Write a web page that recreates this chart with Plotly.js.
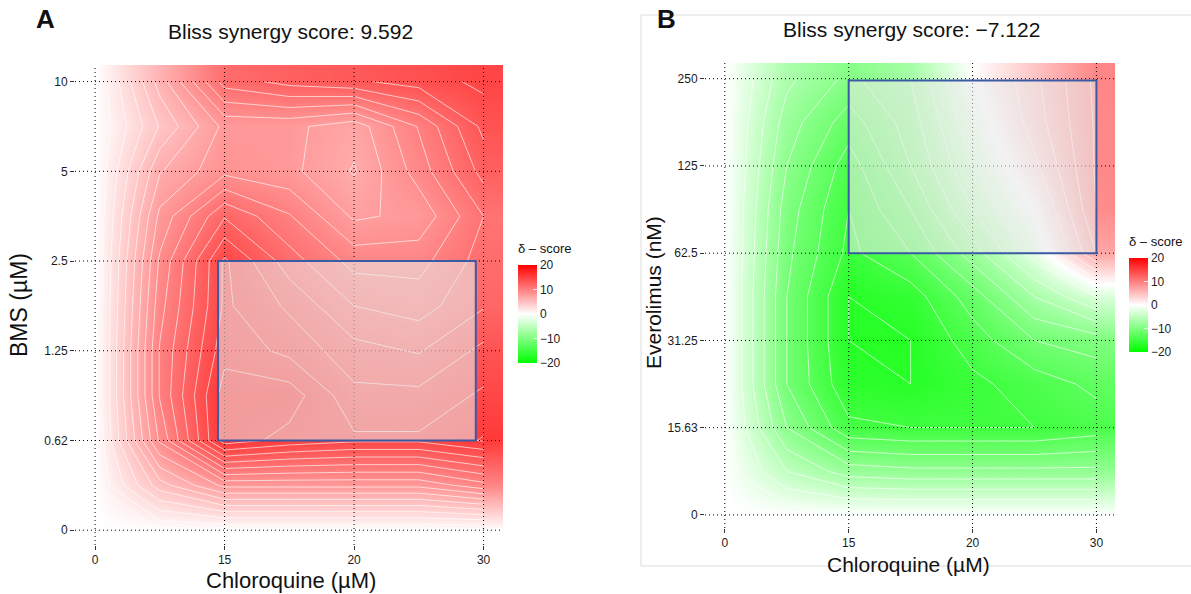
<!DOCTYPE html>
<html>
<head>
<meta charset="utf-8">
<script src="https://cdn.plot.ly/plotly-3.0.1.min.js"></script>
<style>html,body{margin:0;padding:0;background:#fff;}#chart{width:1191px;height:594px;}</style>
</head>
<body>
<div id="chart"></div>
<script>
// ---------- data ----------
const chloroquineLabels = ['0', '15', '20', '30'];
const bmsLabels = ['0', '0.62', '1.25', '2.5', '5', '10'];
const everolimusLabels = ['0', '15.63', '31.25', '62.5', '125', '250'];

// surface sample positions (dose index; read at half-steps of the dose grid)
const gridX = [0, 0.5, 1, 1.5, 2, 2.5, 3];
const gridY = [0, 0.5, 1, 1.5, 2, 2.5, 3, 3.5, 4, 4.5, 5];

// Panel A: Chloroquine x BMS, delta-score (rows follow gridY, columns gridX)
const deltaA = [
  [0, 0, 0, 0, 0, 0, 0],
  [0, 5, 8, 8, 8, 8, 9.5],
  [0, 9, 16, 15, 14.5, 14.5, 15.5],
  [0, 10, 16, 16, 13.5, 13.5, 14.5],
  [0, 10, 15, 14, 12.5, 12, 13.5],
  [0, 9.5, 14.5, 13, 11, 10.5, 12],
  [0, 9, 14.5, 11.5, 9.5, 9.5, 11.5],
  [0, 8, 12, 10, 7.5, 8, 11],
  [0, 6.5, 8.5, 8, 6.5, 9.3, 12.5],
  [0, 4.5, 8, 8, 7, 10, 13.5],
  [0, 6, 11.5, 12.5, 13, 13.7, 14.6]
];

// Panel B: Chloroquine x Everolimus, delta-score
const deltaB = [
  [0, 0, 0, 0, 0, 0, 0],
  [0, -5, -8, -8.5, -8.5, -8.5, -8.5],
  [0, -9, -14.5, -15, -15, -15, -14],
  [0, -11, -16.5, -17, -15.5, -14, -12.5],
  [0, -11, -17, -17, -14, -11, -10],
  [0, -11, -17, -16, -12, -7, -3],
  [0, -10.5, -15.5, -13, -8, -2, 7],
  [0, -10, -15, -11, -5, 0, 9],
  [0, -9, -14, -9, -3, 2.5, 9.3],
  [0, -8, -12, -8, -1.6, 4, 9.3],
  [0, -6.5, -9.5, -7, 0, 4.5, 9.5]
];

const scoreA = '9.592';
const scoreB = '\u22127.122';
const legendTitle = '\u03B4 \u2013 score';
// highlighted dose windows [xFrom, xTo, yFrom, yTo] in dose-index units
const boxA = [0.95, 2.94, 1, 3];
const boxB = [1, 3, 3, 4.98];

// ---------- style ----------
const FONT = 'Liberation Sans, Arial, Helvetica, sans-serif';
const cscale = [[0, '#00FF00'], [0.5, '#FFFFFF'], [1, '#FF0000']];
const W = 1191, H = 594;
const px = v => v / W;
const py = v => 1 - v / H;

function panel(idx, z, cbX, cbY, cbLen, cStep, cStart, cEnd) {
  const xs = idx === 1 ? 'x' : 'x2';
  const ys = idx === 1 ? 'y' : 'y2';
  return [
    {
      type: 'heatmap', x: gridX, y: gridY, z: z, xaxis: xs, yaxis: ys,
      zmin: -20, zmax: 20, colorscale: cscale, zsmooth: 'best', hoverinfo: 'skip',
      colorbar: {
        x: cbX, xanchor: 'left', y: cbY, yanchor: 'middle',
        len: cbLen, lenmode: 'pixels', thickness: 19, thicknessmode: 'pixels',
        outlinewidth: 0, ypad: 0, xpad: 0,
        tickvals: [20, 10, 0, -10, -20], ticks: 'inside', ticklen: 4, tickcolor: 'rgba(255,255,255,0.8)',
        tickfont: {family: FONT, size: 12, color: '#222'}
      }
    },
    {
      type: 'contour', x: gridX, y: gridY, z: z, xaxis: xs, yaxis: ys,
      showscale: false, hoverinfo: 'skip',
      contours: {coloring: 'none', start: cStart, end: cEnd, size: cStep},
      line: {color: 'rgba(255,255,255,0.65)', width: 1, smoothing: 0}
    }
  ];
}

const data = [].concat(
  panel(1, deltaA, px(518), py(314), 98, 1.1, -19.8, 19.8),
  panel(2, deltaB, px(1129), py(305), 94, 2, -19, 19)
);

function axis(dom, range, labels, size, anchor) {
  return {
    domain: dom, range: range, anchor: anchor,
    tickvals: labels.map((_, i) => i), ticktext: labels,
    ticks: 'outside', ticklen: 4, tickcolor: '#333', tickwidth: 1,
    showgrid: false, zeroline: false, showline: false, fixedrange: true,
    tickfont: {family: FONT, size: size, color: '#1a1a1a'}
  };
}

const layout = {
  width: W, height: H,
  margin: {l: 0, r: 0, t: 0, b: 0},
  paper_bgcolor: '#fff', plot_bgcolor: '#fff',
  showlegend: false,
  xaxis: axis([px(75), px(503)], [-0.155, 3.15], chloroquineLabels, 12, 'y'),
  yaxis: axis([1 - 545 / H, 1 - 65 / H], [-0.165, 5.185], bmsLabels, 12, 'x'),
  xaxis2: axis([px(705), px(1115)], [-0.16, 3.15], chloroquineLabels, 12, 'y2'),
  yaxis2: axis([1 - 528 / H, 1 - 63 / H], [-0.15, 5.18], everolimusLabels, 12, 'x2'),
  shapes: [],
  annotations: []
};

// dotted reference lines at every dose
function gridShapes(xr, yr, nx, ny) {
  const out = [];
  for (let i = 0; i < nx; i++) out.push({type: 'line', xref: xr, yref: yr + ' domain', x0: i, x1: i, y0: 0, y1: 1,
    line: {color: '#000', width: 1, dash: '1px,3px'}, layer: 'above'});
  for (let j = 0; j < ny; j++) out.push({type: 'line', xref: xr + ' domain', yref: yr, x0: 0, x1: 1, y0: j, y1: j,
    line: {color: '#000', width: 1, dash: '1px,3px'}, layer: 'above'});
  return out;
}
layout.shapes = layout.shapes.concat(
  gridShapes('x', 'y', chloroquineLabels.length, bmsLabels.length),
  gridShapes('x2', 'y2', chloroquineLabels.length, everolimusLabels.length)
);
function boxShape(xr, yr, b) {
  return {type: 'rect', xref: xr, yref: yr, x0: b[0], x1: b[1], y0: b[2], y1: b[3],
    line: {color: '#3B5BA5', width: 2}, fillcolor: 'rgba(232,232,232,0.58)', layer: 'above'};
}
layout.shapes.push(boxShape('x', 'y', boxA));
layout.shapes.push(boxShape('x2', 'y2', boxB));
// panel B frame
layout.shapes.push({type: 'rect', xref: 'paper', yref: 'paper', x0: px(641), x1: px(1230), y0: py(566), y1: py(15),
  line: {color: '#DDDDDD', width: 1}, fillcolor: 'rgba(0,0,0,0)', layer: 'below'});

function ann(text, x, y, size, opts) {
  return Object.assign({text: text, xref: 'paper', yref: 'paper', x: px(x), y: py(y), showarrow: false,
    xanchor: 'center', yanchor: 'middle', font: {family: FONT, size: size, color: '#111'}}, opts || {});
}
layout.annotations = [
  ann('<b>A</b>', 45, 19, 26),
  ann('<b>B</b>', 666, 19, 26),
  ann('Bliss synergy score: ' + scoreA, 290, 32, 21),
  ann('Bliss synergy score: ' + scoreB, 911, 30, 21),
  ann('Chloroquine (\u00B5M)', 291, 580, 22),
  ann('Chloroquine (\u00B5M)', 908, 564, 21),
  ann('BMS (\u00B5M)', 19, 305, 23, {textangle: -90}),
  ann('Everolimus (nM)', 653, 293, 21, {textangle: -90}),
  ann(legendTitle, 516, 249, 13, {xanchor: 'left'}),
  ann(legendTitle, 1127, 241, 13, {xanchor: 'left'})
];

Plotly.newPlot('chart', data, layout, {displayModeBar: false, staticPlot: true});
</script>
</body>
</html>
